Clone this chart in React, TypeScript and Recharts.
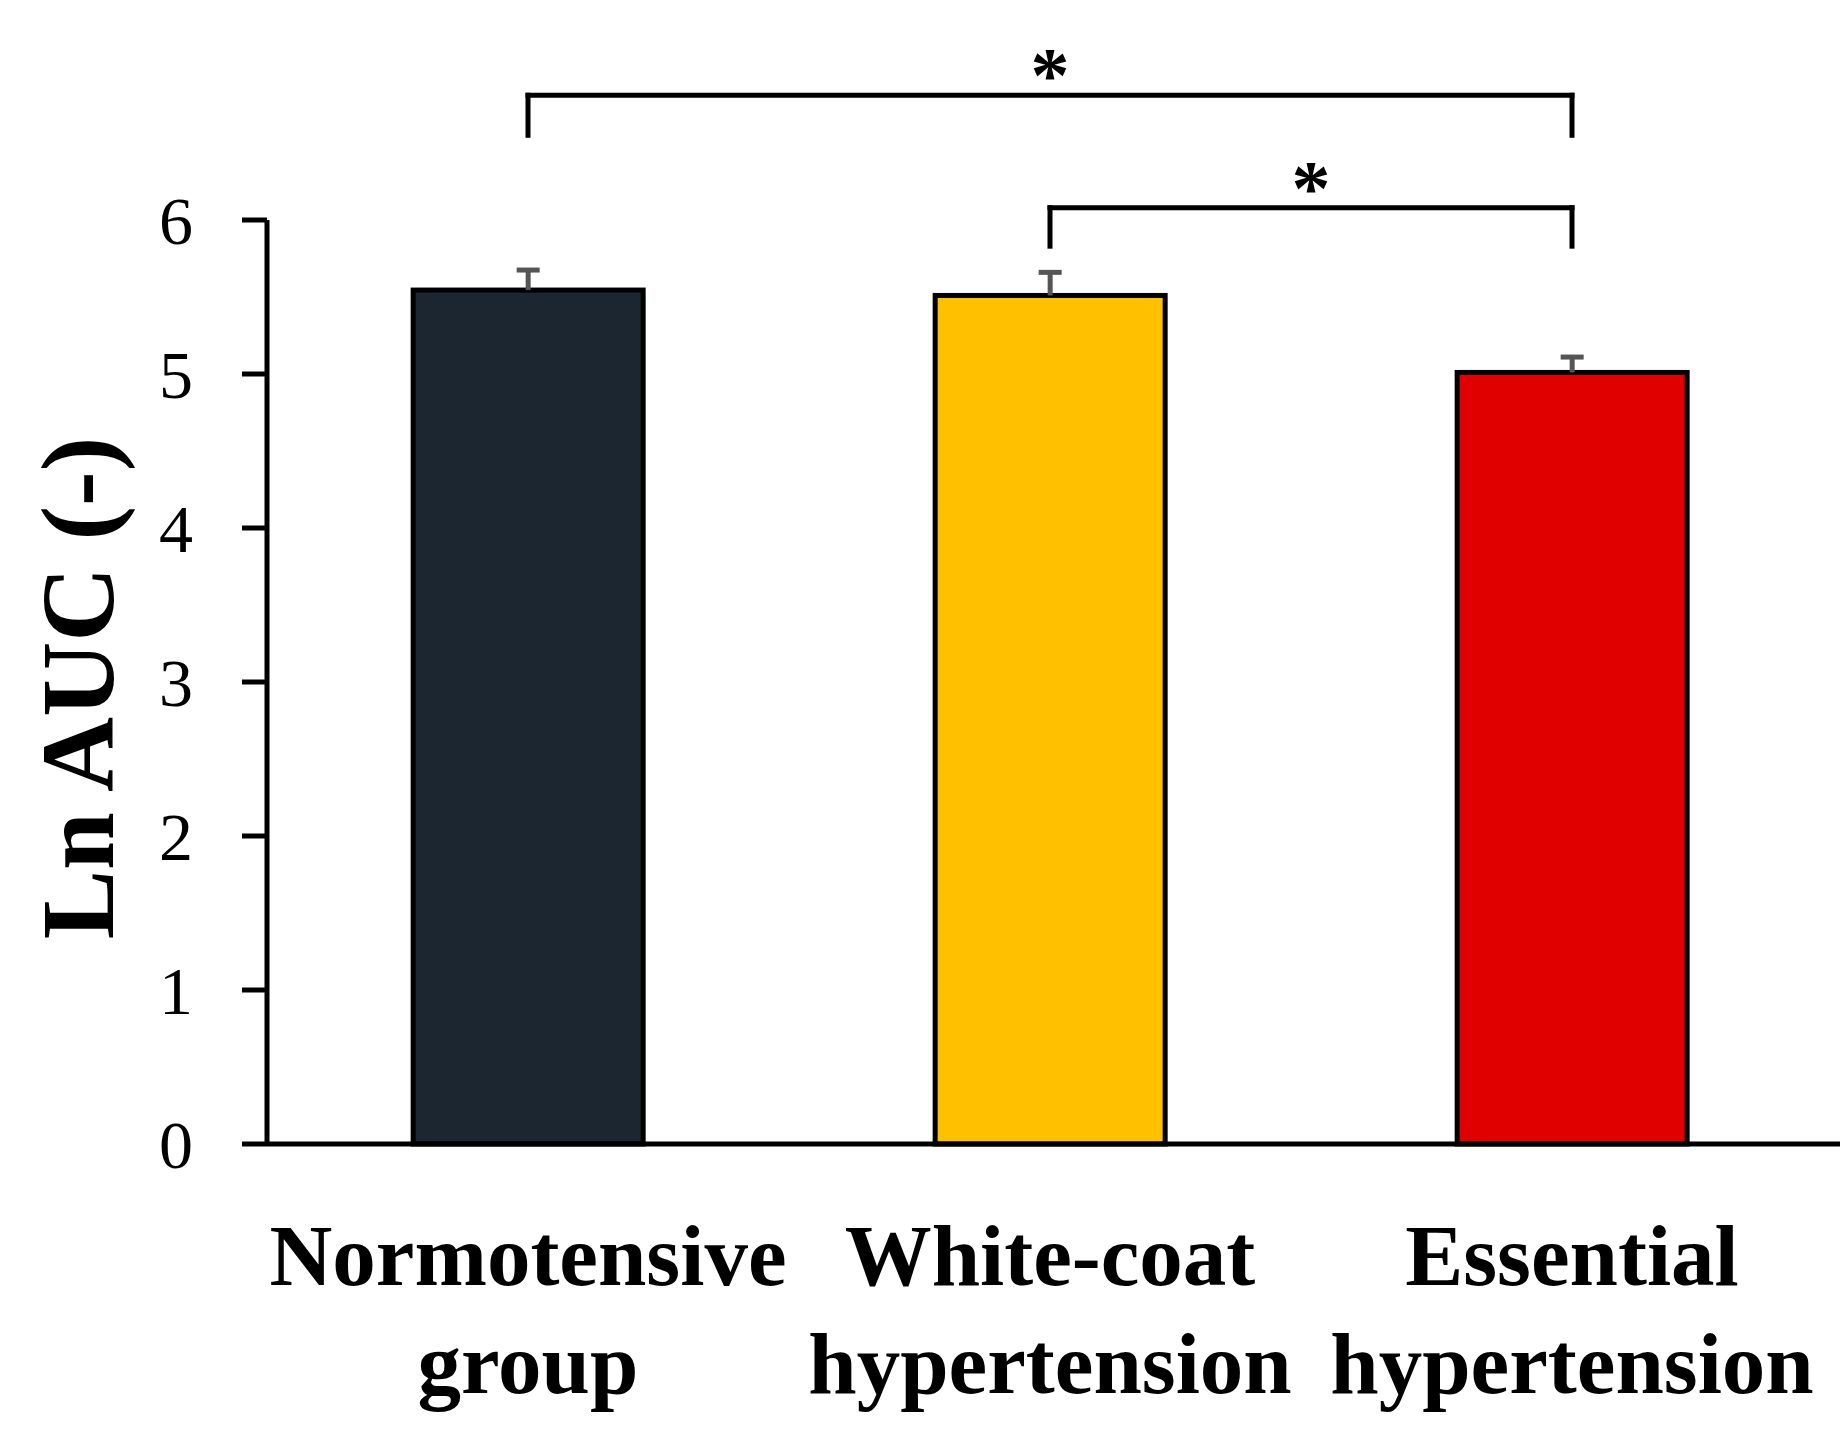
import React from "react";
import { BarChart, Bar, XAxis, YAxis, Cell, ReferenceLine } from "recharts";

const groups = ["Normotensive group", "White-coat hypertension", "Essential hypertension"];
const groupLines = [
  ["Normotensive", "group"],
  ["White-coat", "hypertension"],
  ["Essential", "hypertension"],
];
const lnAuc = [5.545, 5.51, 5.01];
const sem = [0.13, 0.15, 0.1];
const barColors = ["#1b2631", "#ffc000", "#e00000"];
const yTicks = [0, 1, 2, 3, 4, 5, 6];

// significance brackets (group indexes, bracket level and leg foot in Ln AUC units)
const brackets = [
  { from: 0, to: 2, top: 6.81, foot: 6.55, mark: "*" },
  { from: 1, to: 2, top: 6.08, foot: 5.83, mark: "*" },
];

const data = groups.map((g, i) => ({ group: g, value: lnAuc[i], sem: sem[i] }));

const SERIF = "'Liberation Serif', 'Times New Roman', serif";

function GroupTick(props: any) {
  const { x, y, payload } = props;
  const lines = groupLines[groups.indexOf(payload.value)] || [payload.value];
  return (
    <g>
      {lines.map((t, i) => (
        <text
          key={i}
          x={x}
          y={y + 141 + i * 108}
          textAnchor="middle"
          fontFamily={SERIF}
          fontWeight="bold"
          fontSize={87}
          fill="#000"
        >
          {t}
        </text>
      ))}
    </g>
  );
}

// bar with an upper-only error whisker (the SEM is scaled with the bar's own px/unit)
function BarWithError(props: any) {
  const { x, y, width, height, fill, payload } = props;
  const pxPerUnit = height / payload.value;
  const cx = x + width / 2;
  const top = y - payload.sem * pxPerUnit;
  return (
    <g>
      <rect x={x} y={y} width={width} height={height} fill={fill} stroke="#000" strokeWidth={5} />
      <line x1={cx} y1={y} x2={cx} y2={top} stroke="#555" strokeWidth={5} />
      <line x1={cx - 11.5} y1={top} x2={cx + 11.5} y2={top} stroke="#555" strokeWidth={5} />
    </g>
  );
}

function renderYLabel(props: any) {
  const vb = props.viewBox;
  const cx = vb.x + 113;
  const cy = vb.y + vb.height / 2 + 6;
  return (
    <text
      x={cx}
      y={cy}
      transform={`rotate(-90 ${cx} ${cy})`}
      textAnchor="middle"
      fontFamily={SERIF}
      fontWeight="bold"
      fontSize={104}
      fill="#000"
    >
      Ln AUC (-)
    </text>
  );
}

function makeStar(mark: string) {
  return (props: any) => {
    const vb = props.viewBox;
    return (
      <text
        x={vb.x + vb.width / 2}
        y={vb.y + 6}
        textAnchor="middle"
        fontFamily={SERIF}
        fontWeight="bold"
        fontSize={78}
        fill="#000"
      >
        {mark}
      </text>
    );
  };
}

export default function App() {
  return (
    <div style={{ width: 1840, height: 1440, background: "#fff" }}>
      <style>{"body{margin:0}"}</style>
      <BarChart
        width={1840}
        height={1440}
        data={data}
        margin={{ top: 220, right: 0, bottom: 0, left: 0 }}
        barCategoryGap="28%"
      >
        <XAxis
          dataKey="group"
          height={296}
          interval={0}
          tick={<GroupTick />}
          tickLine={false}
          tickSize={0}
          tickMargin={0}
          padding={{ left: 0, right: 7 }}
          axisLine={{ stroke: "#000", strokeWidth: 5 }}
        />
        <YAxis
          width={267}
          domain={[0, 6]}
          ticks={yTicks}
          interval={0}
          tickSize={25}
          tickMargin={49}
          axisLine={{ stroke: "#000", strokeWidth: 5 }}
          tickLine={{ stroke: "#000", strokeWidth: 5 }}
          tick={{ fill: "#000", fontSize: 68, fontFamily: SERIF }}
          label={renderYLabel}
        />
        <Bar dataKey="value" isAnimationActive={false} shape={<BarWithError />}>
          {data.map((d, i) => (
            <Cell key={d.group} fill={barColors[i]} />
          ))}
        </Bar>
        {brackets.map((b, i) => (
          <ReferenceLine
            key={`top-${i}`}
            segment={[
              { x: groups[b.from], y: b.top },
              { x: groups[b.to], y: b.top },
            ]}
            stroke="#000"
            strokeWidth={5}
            strokeLinecap="square"
            ifOverflow="visible"
            label={makeStar(b.mark)}
          />
        ))}
        {brackets.map((b, i) => (
          <ReferenceLine
            key={`left-${i}`}
            segment={[
              { x: groups[b.from], y: b.top },
              { x: groups[b.from], y: b.foot },
            ]}
            stroke="#000"
            strokeWidth={5}
            strokeLinecap="square"
            ifOverflow="visible"
          />
        ))}
        {brackets.map((b, i) => (
          <ReferenceLine
            key={`right-${i}`}
            segment={[
              { x: groups[b.to], y: b.top },
              { x: groups[b.to], y: b.foot },
            ]}
            stroke="#000"
            strokeWidth={5}
            strokeLinecap="square"
            ifOverflow="visible"
          />
        ))}
      </BarChart>
    </div>
  );
}
